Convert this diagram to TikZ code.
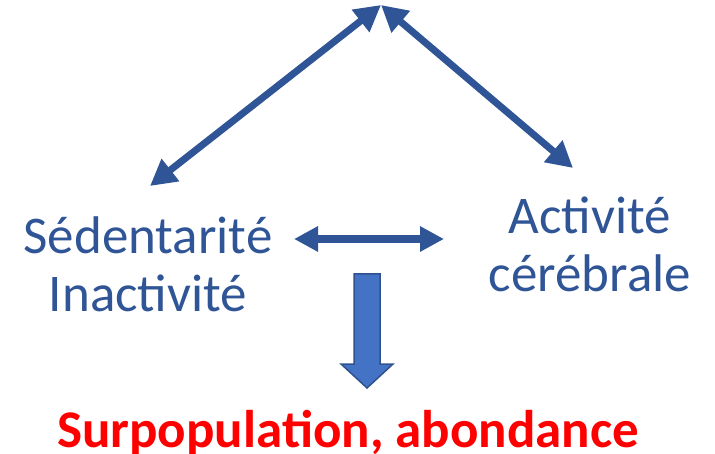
\documentclass[tikz,border=0pt]{standalone}
\usepackage{fontspec}
\setmainfont{Carlito}
\usetikzlibrary{arrows.meta}
\definecolor{darkblue}{HTML}{2F5597}
\definecolor{midblue}{HTML}{4472C4}
\definecolor{edgeblue}{HTML}{2F528F}
\begin{document}
\begin{tikzpicture}[x=1pt,y=-1pt]
\tikzstyle{label}=[text=darkblue,align=center,font=\fontsize{53}{58}\selectfont,inner sep=0pt]
\tikzstyle{result}=[text=red,font=\fontsize{53}{60}\selectfont\bfseries,inner sep=0pt,anchor=base]
\tikzstyle{link} = [draw=darkblue,line width=7pt,{Triangle[length=26pt,width=27pt]}-{Triangle[length=26pt,width=27pt]}]
\tikzstyle{small link} = [draw=darkblue,line width=8pt,{Triangle[length=24pt,width=24pt]}-{Triangle[length=24pt,width=24pt]}]
\useasboundingbox (0,0) rectangle (715,454);
\coordinate (apex) at (381,5);
\coordinate (lefttip) at (150,186);
\coordinate (righttip) at (573,168);
\coordinate (midleft) at (294,239);
\coordinate (midright) at (444,239);
\node[label] (sedentarite) at (148,264) {Sédentarité\\Inactivité};
\node[label] (activite) at (590,244) {Activité\\cérébrale};
\node[result] (surpop) at (348,447) {Surpopulation, abondance};
\path[link] (lefttip) -- (apex);
\path[link] (apex) -- (righttip);
\path[small link] (midleft) -- (midright);
% block arrow
\filldraw[fill=midblue,draw=edgeblue,line width=1.5pt] (354,274) -- (380,274) -- (380,364) -- (393,364) -- (367,388) -- (341,364) -- (354,364) -- cycle;
\end{tikzpicture}
\end{document}
